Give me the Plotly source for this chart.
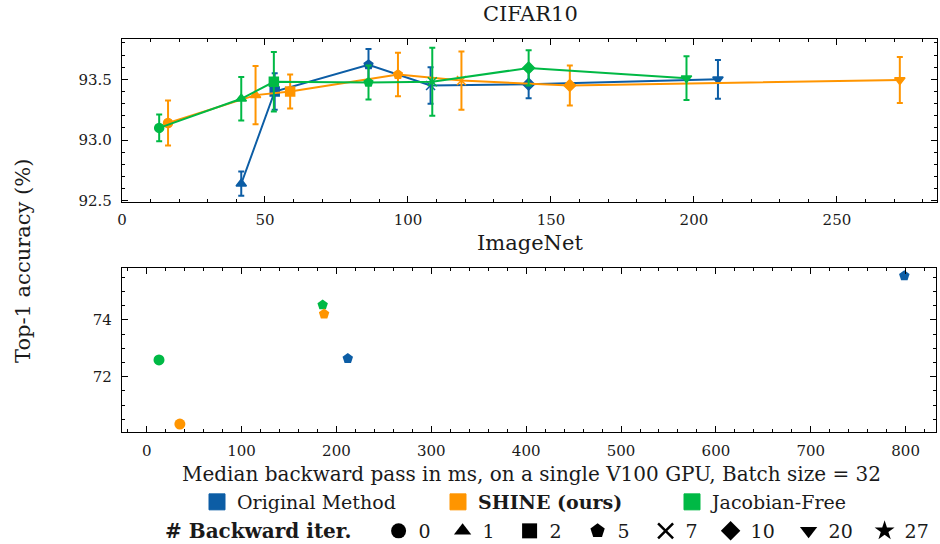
import plotly.graph_objects as go

# ---------------- data ----------------
methods = ["Original Method", "SHINE (ours)", "Jacobian-Free"]
colors = ["#0C5DA5", "#FF9500", "#00B945"]

iter_labels = [0, 1, 2, 5, 7, 10, 20, 27]
iter_symbols = ["circle", "triangle-up", "square", "pentagon", "x-thin",
                "diamond", "triangle-down", "star"]

# CIFAR10: backward time (ms), top-1 accuracy (%), std, # backward iterations
cifar_orig_x = [41.7, 53.4, 86.2, 107.9, 142.2, 208.4]
cifar_orig_y = [92.64, 93.40, 93.62, 93.45, 93.46, 93.50]
cifar_orig_e = [0.10, 0.15, 0.13, 0.15, 0.115, 0.16]
cifar_orig_it = [1, 2, 5, 7, 10, 20]

cifar_shine_x = [16.1, 46.7, 58.8, 96.5, 118.7, 156.6, 272.0]
cifar_shine_y = [93.14, 93.37, 93.40, 93.54, 93.49, 93.45, 93.495]
cifar_shine_e = [0.185, 0.24, 0.14, 0.18, 0.24, 0.165, 0.19]
cifar_shine_it = [0, 1, 2, 5, 7, 10, 20]

cifar_jf_x = [13.0, 41.7, 53.1, 86.2, 108.5, 142.2, 197.4]
cifar_jf_y = [93.10, 93.34, 93.48, 93.475, 93.48, 93.594, 93.51]
cifar_jf_e = [0.11, 0.18, 0.245, 0.14, 0.28, 0.145, 0.18]
cifar_jf_it = [0, 1, 2, 5, 7, 10, 20]

# ImageNet
imnet_orig_x = [212.0, 798.6]
imnet_orig_y = [72.64, 75.56]
imnet_orig_it = [5, 5]

imnet_shine_x = [35.0, 187.0]
imnet_shine_y = [70.33, 74.21]
imnet_shine_it = [0, 5]

imnet_jf_x = [13.0, 185.5]
imnet_jf_y = [72.59, 74.53]
imnet_jf_it = [0, 5]

# ---------------- figure ----------------
W, H = 940, 544
FONT = "DejaVu Serif"
TXT = "#1a1a1a"
sym_of = dict(zip(iter_labels, iter_symbols))

fig = go.Figure()

cifar = [
    (cifar_orig_x, cifar_orig_y, cifar_orig_e, cifar_orig_it),
    (cifar_shine_x, cifar_shine_y, cifar_shine_e, cifar_shine_it),
    (cifar_jf_x, cifar_jf_y, cifar_jf_e, cifar_jf_it),
]
for (xs, ys, es, its), c, name in zip(cifar, colors, methods):
    fig.add_trace(go.Scatter(
        x=xs, y=ys, mode="lines+markers", name=name, showlegend=False,
        line=dict(color=c, width=2),
        marker=dict(symbol=[sym_of[i] for i in its], size=9, color=c,
                    line=dict(color=c, width=1.5)),
        error_y=dict(type="data", array=es, visible=True, color=c,
                     thickness=2, width=3),
        xaxis="x", yaxis="y"))

imnet = [
    (imnet_orig_x, imnet_orig_y, imnet_orig_it, 0),
    (imnet_jf_x, imnet_jf_y, imnet_jf_it, 2),
    (imnet_shine_x, imnet_shine_y, imnet_shine_it, 1),
]
for xs, ys, its, k in imnet:
    fig.add_trace(go.Scatter(
        x=xs, y=ys, mode="markers", name=methods[k], showlegend=False,
        marker=dict(symbol=[sym_of[i] for i in its], size=11, color=colors[k],
                    line=dict(color=colors[k], width=0)),
        xaxis="x2", yaxis="y2"))

# legend row 1: methods (colour patches)
method_widths = [196, 189, 150]
for name, c, w in zip(methods, colors, method_widths):
    label = "<b>%s</b>" % name if name.startswith("SHINE") else name
    fig.add_trace(go.Scatter(
        x=[None], y=[None], mode="markers", name=label, legend="legend",
        legendwidth=w,
        marker=dict(symbol="square", size=16, color=c, line=dict(color=c, width=1)),
        xaxis="x", yaxis="y"))

# legend row 2: number of backward iterations (marker shapes)
iter_widths = [19, 22, 23, 23, 20, 33, 31, 20]
for lab, sym, w in zip(iter_labels, iter_symbols, iter_widths):
    fig.add_trace(go.Scatter(
        x=[None], y=[None], mode="markers", name=str(lab), legend="legend2",
        legendwidth=w,
        marker=dict(symbol=sym, size=15, color="black",
                    line=dict(color="black", width=2.5 if sym == "x-thin" else 0)),
        xaxis="x", yaxis="y"))


def axis_common(dtick, minor_dtick, rng, domain, anchor, tick0=0, fmt=None,
                standoff=5):
    d = dict(
        domain=domain, range=rng, anchor=anchor, dtick=dtick, tick0=tick0,
        ticks="inside", ticklen=6, tickwidth=1.2, tickcolor="black",
        showline=True, linecolor="black", linewidth=1.3, mirror="allticks",
        showgrid=False, zeroline=False, ticklabelstandoff=standoff,
        tickfont=dict(family=FONT, size=15, color=TXT),
        minor=dict(ticks="inside", ticklen=3, tickwidth=1, tickcolor="black",
                   dtick=minor_dtick, showgrid=False),
    )
    if fmt:
        d["tickformat"] = fmt
    return d


xdom = [122 / W, 937 / W]
top_dom = [1 - 202.3 / H, 1 - 39.3 / H]
bot_dom = [1 - 431.7 / H, 1 - 268.3 / H]


def label(text, xp, yp, size, angle=0):
    return dict(text=text, x=xp / W, y=1 - yp / H, xref="paper", yref="paper",
                xanchor="center", yanchor="middle", showarrow=False,
                textangle=angle, font=dict(family=FONT, size=size, color=TXT))


fig.update_layout(
    width=W, height=H,
    margin=dict(l=0, r=0, t=0, b=0, autoexpand=False),
    paper_bgcolor="white", plot_bgcolor="white",
    font=dict(family=FONT, color=TXT),
    xaxis=axis_common(50, 10, [0, 285], xdom, "y", standoff=4),
    yaxis=axis_common(0.5, 0.1, [92.487, 93.83], top_dom, "x", tick0=92.5,
                      fmt=".1f", standoff=6),
    xaxis2=axis_common(100, 20, [-26, 832], [122 / W, 936 / W], "y2", standoff=5),
    yaxis2=axis_common(2, 0.5, [70.06, 75.82], bot_dom, "x2", tick0=70, standoff=6),
    legend=dict(orientation="h", x=197 / W, y=1 - 502 / H, xanchor="left",
                yanchor="middle", font=dict(family=FONT, size=19, color=TXT),
                bgcolor="rgba(0,0,0,0)", itemsizing="trace", tracegroupgap=0),
    legend2=dict(orientation="h", x=163 / W, y=1 - 531 / H, xanchor="left",
                 yanchor="middle", font=dict(family=FONT, size=19, color=TXT),
                 bgcolor="rgba(0,0,0,0)", itemsizing="trace",
                 title=dict(text="<b># Backward iter.</b>&nbsp;&nbsp;&nbsp;", side="left",
                            font=dict(family=FONT, size=20, color=TXT))),
    annotations=[
        label("CIFAR10", 530, 14, 21),
        label("ImageNet", 530, 243, 21),
        label("Top-1 accuracy (%)", 23, 261, 21, angle=-90),
        label("Median backward pass in ms, on a single V100 GPU, Batch size = 32",
              531, 474, 20),
    ],
)

fig.write_html("out.html")
